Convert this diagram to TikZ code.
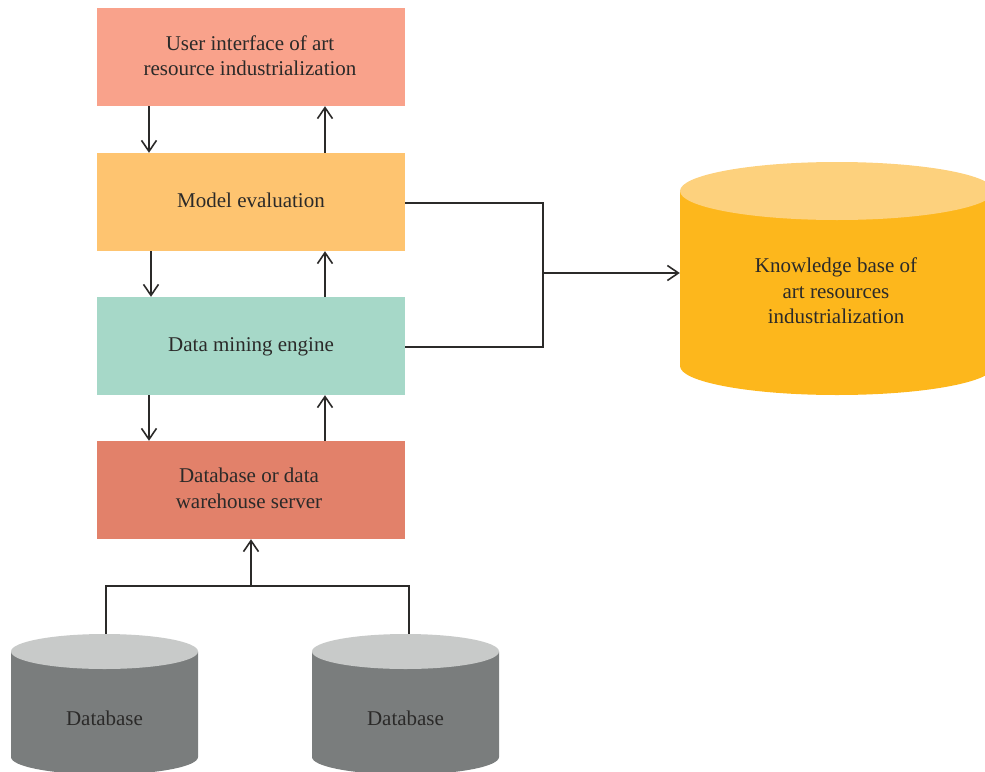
\documentclass[tikz,border=0pt]{standalone}
\usepackage{fontspec}
\setmainfont{Liberation Serif}
\usetikzlibrary{arrows.meta}
\definecolor{cUI}{HTML}{F9A28B}
\definecolor{cME}{HTML}{FEC470}
\definecolor{cDM}{HTML}{A6D8C8}
\definecolor{cDB}{HTML}{E2816A}
\definecolor{cKB}{HTML}{FDB71C}
\definecolor{cKBtop}{HTML}{FDD17D}
\definecolor{cGR}{HTML}{7A7D7D}
\definecolor{cGRtop}{HTML}{C8CAC9}
\definecolor{cTX}{HTML}{2B2A29}
\tikzset{
  x=1pt,y=-1pt,
  lab/.style={font=\fontsize{21}{25.5}\selectfont,text=cTX,align=center,inner sep=0pt},
  boxn/.style={minimum width=308pt,minimum height=98pt,inner sep=0pt},
  line/.style={draw=cTX,line width=1.6pt},
  arr/.style={line,-{Straight Barb[length=11pt,width=15pt,line width=1.6pt]}},
}
\newcommand{\cyl}[7]{% cx, rx, topcy, ry, botcy, bodycol, topcol
  \fill[#6] (#1-#2,#3) -- (#1-#2,#5) arc[start angle=180,end angle=360,x radius=#2,y radius=-#4] -- (#1+#2,#3) -- cycle;
  \fill[#7] (#1,#3) ellipse[x radius=#2,y radius=#4];
}
\begin{document}
\begin{tikzpicture}
\clip (0,0) rectangle (985,771);
\useasboundingbox (0,0) rectangle (985,771);
\cyl{837}{157}{191}{29}{366}{cKB}{cKBtop}
\cyl{104.5}{93.5}{651.5}{17.5}{757}{cGR}{cGRtop}
\cyl{405.5}{93.5}{651.5}{17.5}{757}{cGR}{cGRtop}
\node[boxn,fill=cUI] (ui) at (251,57) {};
\node[boxn,fill=cME] (me) at (251,202) {};
\node[boxn,fill=cDM] (dm) at (251,346) {};
\node[boxn,fill=cDB] (db) at (251,490) {};
\node[lab] (uit) at (250,55.5) {User interface of art\\resource industrialization};
\node[lab] (met) at (251,200.5) {Model evaluation};
\node[lab] (dmt) at (251,346.5) {Data mining engine};
\node[lab] (dbt) at (249,488.5) {Database or data\\warehouse server};
\node[minimum width=314pt,minimum height=232pt,inner sep=0pt] (kb) at (837,278) {};
\node[lab] (kbt) at (836,291) {Knowledge base of\\art resources\\industrialization};
\node[minimum width=187pt,minimum height=137pt,inner sep=0pt] (d1) at (104.5,702.5) {};
\node[minimum width=187pt,minimum height=137pt,inner sep=0pt] (d2) at (405.5,702.5) {};
\node[lab] (d1t) at (104.5,718.5) {Database};
\node[lab] (d2t) at (405.5,718.5) {Database};
\coordinate (jr) at (543,273);
\coordinate (jb) at (251,586);
% vertical pairs
\draw[arr] ([xshift=-102pt]ui.south) -- ([xshift=-102pt]me.north);
\draw[arr] ([xshift=74pt]me.north) -- ([xshift=74pt]ui.south);
\draw[arr] ([xshift=-100pt]me.south) -- ([xshift=-100pt]dm.north);
\draw[arr] ([xshift=74pt]dm.north) -- ([xshift=74pt]me.south);
\draw[arr] ([xshift=-102pt]dm.south) -- ([xshift=-102pt]db.north);
\draw[arr] ([xshift=74pt]db.north) -- ([xshift=74pt]dm.south);
% to knowledge base
\draw[line] ([yshift=-1pt]me.east) -| (jr);
\draw[line] ([yshift=-1pt]dm.east) -| (jr);
\draw[arr] (jr) -- (jr -| kb.west);
% databases
\draw[line] ([xshift=1.5pt]d1.north) |- (jb);
\draw[line] ([xshift=3.5pt]d2.north) |- (jb);
\draw[arr] (jb) -- (db.south);
\end{tikzpicture}
\end{document}
